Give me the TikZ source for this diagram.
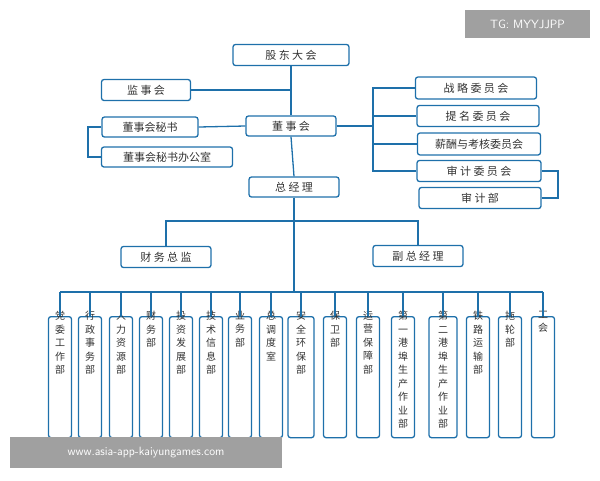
\documentclass[tikz,border=0pt]{standalone}
\usepackage{fontspec}
\setmainfont{Noto Sans CJK SC}
\definecolor{ln}{RGB}{30,112,170}
\definecolor{tx}{RGB}{50,50,50}
\definecolor{wm}{RGB}{160,160,160}
\begin{document}
\begin{tikzpicture}[x=1pt,y=-1pt,
  box/.style={draw=ln,line width=1.3pt,rounded corners=2.5pt,inner sep=0pt,text=tx,font=\fontsize{11}{12}\selectfont},
  vbox/.style={box,minimum width=22pt,minimum height=120pt,anchor=north,align=center,text depth=0pt,font=\fontsize{10.5}{14.5}\selectfont,
    label={[anchor=north,align=center,text=tx,font=\fontsize{10.5}{14.5}\selectfont,inner sep=0pt]north:{}}},
  con/.style={draw=ln,line width=1.3pt},
  wmk/.style={fill=wm,text=white,inner sep=0pt,font=\fontsize{12}{14}\selectfont\sffamily}]
\useasboundingbox (0,0) rectangle (600,480);
\node[box,minimum width=116pt,minimum height=21pt] (gd) at (291,55) {股\ 东\ 大\ 会};
\node[box,minimum width=89pt,minimum height=21pt] (js) at (146,90) {监\ 事\ 会};
\node[box,minimum width=96pt,minimum height=20pt] (ms) at (150,127) {董事会秘书};
\node[box,minimum width=131pt,minimum height=20pt] (mb) at (167,157) {董事会秘书办公室};
\node[box,minimum width=90pt,minimum height=20pt] (ds) at (291,126) {董\ 事\ 会};
\node[box,minimum width=90pt,minimum height=20pt] (zj) at (294,187) {总\ 经\ 理};
\node[box,minimum width=121pt,minimum height=22pt] (zl) at (476,88) {战\ 略\ 委\ 员\ 会};
\node[box,minimum width=122pt,minimum height=21pt] (tm) at (478,116) {提\ 名\ 委\ 员\ 会};
\node[box,minimum width=123pt,minimum height=22pt] (xc) at (479,144) {薪酬与考核委员会};
\node[box,minimum width=124pt,minimum height=21pt] (sw) at (479,171) {审\ 计\ 委\ 员\ 会};
\node[box,minimum width=122pt,minimum height=21pt] (sb) at (480,198) {审\ 计\ 部};
\node[box,minimum width=90pt,minimum height=21pt] (cw) at (166,257) {财\ 务\ 总\ 监};
\node[box,minimum width=90pt,minimum height=21pt] (fz) at (418,256) {副\ 总\ 经\ 理};
% main trunk
\draw[con] (gd.south) -- (ds.north);
\draw[con] (ds.south) -- (zj.north);
\draw[con] (js.east) -- (292,90);
\draw[con] (ds.west) -- (ms.east);
\coordinate (lt) at (88,127); \coordinate (lb) at (88,157);
\draw[con] (ms.west) -- (lt) -- (lb) -- (mb.west);
\coordinate (rt) at (373,88); \coordinate (rb) at (373,171);
\draw[con] (ds.east) -- (373,126);
\draw[con] (zl.west) -- (rt) -- (rb) -- (sw.west);
\draw[con] (373,116) -- (tm.west);
\draw[con] (373,144) -- (xc.west);
\draw[con] (sw.east) -- (558,171) -- (558,198) -- (sb.east);
\coordinate (bus) at (294,292);
\draw[con] (zj.south) -- (bus);
\draw[con] (cw.north) -- (166,221) -- (418,221) -- (fz.north);
% bottom boxes
\foreach \n/\x/\w/\t in {a/60/23/党\\委\\工\\作\\部, b/90/23/行\\政\\事\\务\\部, c/121/23/人\\力\\资\\源\\部,
  d/151/23/财\\务\\部, e/181/23/投\\资\\发\\展\\部, f/211/23/技\\术\\信\\息\\部, g/240/23/业\\务\\部,
  h/271/23/总\\调\\度\\室, i/301/26/安\\全\\环\\保\\部, j/335/23/保\\卫\\部, k/368/23/运\\营\\保\\障\\部,
  l/403/23/第\\一\\港\\埠\\生\\产\\作\\业\\部, m/443/28/第\\二\\港\\埠\\生\\产\\作\\业\\部,
  n/478/23/铁\\路\\运\\输\\部, o/510/23/拖\\轮\\部, p/543/23/工\\会}{
  \node[box,anchor=north,minimum width=\w pt,minimum height=121pt] (\n) at (\x,316) {};
  \node[anchor=north,align=center,inner sep=0pt,text=tx,font=\fontsize{10}{13.5}\selectfont] at ([yshift=5pt]\n.north) {\t};
  \draw[con] (\n.north) -- (\x,292);
}
\draw[con] (60,292) -- (543,292);
% watermarks
\node[wmk,minimum width=125pt,minimum height=28pt] (tg) at (527.5,24) {TG: MYYJJPP};
\node[wmk,minimum width=272pt,minimum height=31pt] (ww) at (146,452.5) {www.asia-app-kaiyungames.com};
\end{tikzpicture}
\end{document}
